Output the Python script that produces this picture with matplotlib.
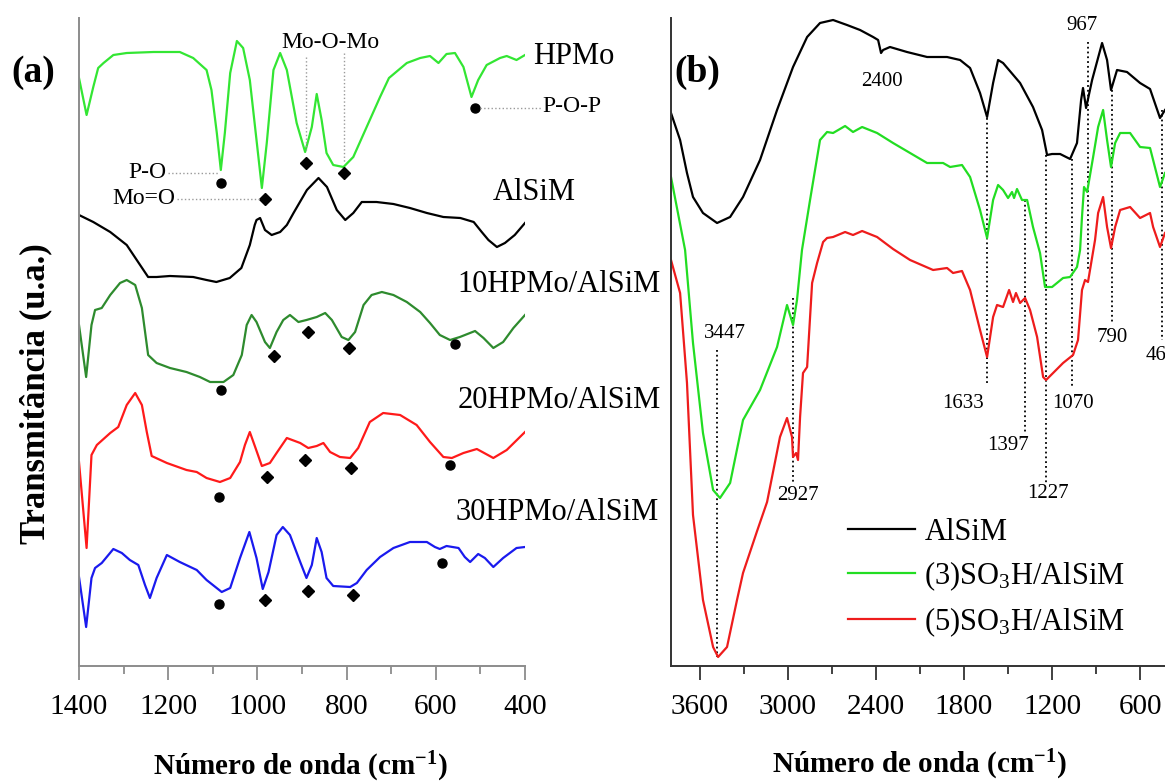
import matplotlib
matplotlib.use('Agg')
import matplotlib.pyplot as plt
from matplotlib.ticker import MultipleLocator

plt.rcParams['font.family'] = ['Liberation Serif', 'DejaVu Serif']
plt.rcParams['mathtext.fontset'] = 'custom'
plt.rcParams['mathtext.rm'] = 'Liberation Serif'
plt.rcParams['mathtext.it'] = 'Liberation Serif:italic'
plt.rcParams['mathtext.bf'] = 'Liberation Serif:bold'

# ---- panel (a): FTIR 1400-400 cm-1, offset spectra (arbitrary units) ----
hpmo_wn = [1400, 1383, 1368, 1357, 1345, 1323, 1293, 1233, 1174, 1144, 1114, 1103, 1091,
           1082, 1073, 1061, 1046, 1032, 1017, 1002, 990, 979, 964, 949, 934, 912, 893,
           878, 867, 856, 845, 830, 807, 785, 755, 725, 705, 665, 635, 613, 594, 576,
           557, 538, 520, 505, 486, 456, 441, 419, 400]
hpmo_t = [588, 551, 579, 598, 603, 611, 613, 614, 614, 608, 596, 576, 533, 496, 533, 593,
          625, 618, 586, 526, 478, 523, 596, 613, 596, 543, 514, 539, 572, 546, 513, 501,
          499, 509, 539, 569, 588, 603, 608, 610, 603, 612, 613, 599, 569, 586, 601, 608,
          610, 606, 611]

alsim_a_wn = [1400, 1368, 1330, 1293, 1263, 1245, 1226, 1196, 1144, 1114, 1092, 1062, 1036,
              1017, 1006, 1002, 994, 983, 968, 949, 934, 919, 889, 863, 844, 822, 803, 785,
              766, 733, 695, 658, 620, 583, 545, 515, 497, 482, 463, 445, 423, 400]
alsim_a_t = [451, 444, 434, 421, 401, 389, 389, 390, 389, 386, 384, 388, 398, 421, 441, 446,
             448, 436, 431, 434, 441, 453, 476, 488, 479, 456, 446, 453, 464, 464, 462, 458,
             453, 449, 448, 444, 434, 426, 419, 423, 431, 443]

h10_wn = [1400, 1384, 1372, 1364, 1349, 1330, 1308, 1293, 1274, 1259, 1245, 1226, 1196,
          1159, 1129, 1106, 1076, 1054, 1035, 1024, 1013, 1002, 983, 972, 957, 942, 927,
          908, 890, 867, 848, 833, 811, 796, 781, 762, 744, 721, 695, 665, 635, 613, 591,
          568, 546, 512, 493, 471, 449, 426, 400]
h10_t = [341, 289, 341, 356, 358, 371, 383, 386, 381, 358, 311, 303, 298, 294, 289, 284,
         284, 291, 311, 341, 351, 344, 324, 318, 334, 346, 351, 344, 346, 349, 353, 346,
         329, 326, 334, 361, 371, 374, 371, 364, 354, 343, 331, 326, 329, 335, 328, 318,
         324, 338, 351]

h20_wn = [1400, 1383, 1372, 1360, 1330, 1312, 1293, 1274, 1259, 1248, 1237, 1203, 1159,
          1136, 1114, 1084, 1061, 1039, 1028, 1017, 1005, 990, 972, 957, 934, 904, 886,
          867, 852, 837, 815, 792, 774, 748, 718, 680, 643, 613, 583, 564, 538, 508, 471,
          441, 400]
h20_t = [204, 118, 211, 221, 233, 239, 261, 273, 261, 234, 210, 203, 196, 194, 188, 184,
         188, 204, 221, 234, 219, 200, 203, 213, 228, 223, 218, 220, 223, 214, 209, 208,
         218, 244, 253, 251, 241, 224, 209, 208, 213, 217, 208, 216, 234]

h30_wn = [1400, 1384, 1372, 1364, 1349, 1323, 1304, 1286, 1267, 1252, 1241, 1226, 1203,
          1174, 1136, 1114, 1080, 1061, 1039, 1018, 1002, 988, 975, 957, 943, 927, 904,
          890, 878, 867, 856, 845, 830, 792, 777, 755, 725, 695, 658, 620, 602, 591, 576,
          549, 535, 523, 505, 490, 471, 449, 419, 400]
h30_t = [89, 39, 88, 98, 103, 117, 113, 106, 101, 81, 68, 88, 111, 104, 96, 86, 74, 78,
         108, 134, 108, 77, 94, 131, 139, 131, 104, 88, 101, 128, 114, 88, 80, 79, 83, 96,
         109, 118, 124, 124, 119, 117, 120, 118, 109, 104, 112, 108, 99, 108, 118, 119]

# band markers (wavenumber, transmittance)
dot_wn = [1082, 511, 1082, 557, 1085, 568, 1085, 585]
dot_t = [483, 558, 276, 322, 169, 201, 62, 103]
dia_wn = [890, 805, 984, 962, 886, 795, 978, 893, 791, 983, 886, 785]
dia_t = [503, 493, 467, 310, 334, 318, 189, 206, 198, 66, 75, 71]

# ---- panel (b): FTIR 3800-430 cm-1 ----
b_alsim_wn = [3798, 3736, 3689, 3648, 3580, 3484, 3395, 3307, 3191, 3075, 2966, 2870, 2782,
              2693, 2598, 2509, 2420, 2386, 2366, 2352, 2305, 2189, 2052, 1916, 1827, 1759,
              1691, 1643, 1602, 1568, 1534, 1418, 1330, 1268, 1234, 1200, 1145, 1077, 1030,
              1002, 989, 968, 927, 859, 825, 798, 757, 689, 600, 532, 464, 430]
b_alsim_t = [553, 526, 493, 469, 453, 443, 449, 469, 506, 556, 599, 629, 643, 646, 641, 636,
             629, 626, 613, 616, 619, 614, 609, 609, 606, 598, 573, 549, 583, 606, 603, 583,
             559, 536, 511, 512, 512, 507, 523, 566, 578, 558, 586, 623, 606, 576, 596, 594,
             583, 577, 548, 556]

b_so3_3_wn = [3798, 3702, 3648, 3580, 3511, 3464, 3395, 3307, 3191, 3075, 3007, 2966, 2939,
              2905, 2850, 2782, 2734, 2693, 2611, 2557, 2495, 2393, 2284, 2168, 2052, 1943,
              1895, 1814, 1759, 1691, 1643, 1602, 1568, 1534, 1500, 1473, 1459, 1439, 1405,
              1370, 1330, 1282, 1248, 1200, 1125, 1077, 1030, 1009, 996, 982, 961, 920, 886,
              852, 825, 798, 770, 736, 668, 600, 532, 511, 464, 430]
b_so3_3_t = [489, 416, 323, 233, 176, 168, 183, 246, 276, 319, 361, 341, 366, 416, 466, 526,
             534, 533, 540, 534, 539, 533, 523, 513, 503, 503, 499, 501, 489, 456, 428, 466,
             481, 476, 468, 474, 468, 477, 466, 466, 439, 413, 379, 379, 388, 389, 399, 416,
             449, 479, 474, 509, 539, 556, 526, 499, 523, 533, 533, 519, 518, 506, 479, 493]

b_so3_5_wn = [3798, 3736, 3689, 3648, 3580, 3511, 3477, 3416, 3348, 3307, 3211, 3143, 3055,
              3007, 2973, 2966, 2945, 2932, 2918, 2898, 2870, 2836, 2802, 2761, 2734, 2693,
              2611, 2557, 2495, 2393, 2284, 2168, 2011, 1916, 1875, 1814, 1759, 1691, 1643,
              1602, 1575, 1534, 1493, 1466, 1446, 1418, 1384, 1350, 1302, 1261, 1241, 1193,
              1125, 1057, 1023, 996, 975, 955, 907, 886, 852, 825, 798, 770, 736, 668, 600,
              532, 511, 464, 430]
b_so3_5_t = [406, 373, 283, 151, 66, 19, 9, 19, 66, 93, 135, 164, 229, 248, 229, 209, 213,
             206, 249, 293, 299, 383, 403, 424, 428, 429, 434, 431, 435, 429, 417, 406, 396,
             398, 393, 395, 376, 336, 309, 349, 361, 359, 376, 364, 373, 363, 368, 356, 329,
             289, 286, 293, 303, 311, 326, 376, 386, 384, 426, 453, 469, 439, 418, 439, 456,
             459, 448, 453, 439, 419, 433]

# band guides in (b): line position, top, bottom; label text and position
band_wn = [3484, 2966, 1643, 1384, 1241, 1064, 955, 791, 450]
band_top = [316, 368, 548, 466, 511, 507, 624, 576, 556]
band_bot = [9, 184, 281, 233, 183, 278, 396, 344, 326]
band_lbl = ['3447', '2927', '1633', '1397', '1227', '1070', '967', '790', '460']
band_lbl_wn = [3430, 2932, 1807, 1500, 1227, 1057, 995, 791, 455]
band_lbl_t = [333, 171, 262, 221, 173, 262, 641, 329, 310]

fig = plt.figure(figsize=(11.65, 7.83), dpi=100)
ax_a = fig.add_axes([79 / 1165, 117 / 783, 446 / 1165, 648 / 783])
ax_b = fig.add_axes([671 / 1165, 117 / 783, 494 / 1165, 648 / 783])


def style(ax, color):
    for s in ['top', 'right']:
        ax.spines[s].set_visible(False)
    for s in ['left', 'bottom']:
        ax.spines[s].set_color(color)
        ax.spines[s].set_linewidth(1.4)
    ax.set_yticks([])
    ax.tick_params(axis='x', which='major', length=10, width=1.3, color=color,
                   labelsize=21, pad=10)
    ax.tick_params(axis='x', which='minor', length=6, width=1.3, color=color)
    ax.set_ylim(0, 648)


# panel (a)
style(ax_a, '#8c8c8c')
ax_a.set_xlim(1400, 400)
ax_a.xaxis.set_major_locator(MultipleLocator(200))
ax_a.xaxis.set_minor_locator(MultipleLocator(100))
ax_a.plot(hpmo_wn, hpmo_t, color='#33e633', lw=1.6)
ax_a.plot(alsim_a_wn, alsim_a_t, color='black', lw=1.6)
ax_a.plot(h10_wn, h10_t, color='#2e8b2e', lw=1.6)
ax_a.plot(h20_wn, h20_t, color='#ff1a1a', lw=1.6)
ax_a.plot(h30_wn, h30_t, color='#1a1aee', lw=1.6)
ax_a.plot(dot_wn, dot_t, 'o', color='black', ms=6.5, clip_on=False)
ax_a.plot(dia_wn, dia_t, 'D', color='black', ms=6.5, clip_on=False)

gray = '#9a9a9a'
ax_a.plot([892, 892], [609, 516], ':', color=gray, lw=1)
ax_a.plot([805, 805], [613, 503], ':', color=gray, lw=1)
ax_a.plot([1200, 1085], [493, 493], ':', color=gray, lw=1)
ax_a.plot([1181, 994], [467, 467], ':', color=gray, lw=1)
ax_a.plot([501, 362], [558, 558], ':', color=gray, lw=1, clip_on=False)

ax_a.text(837, 623, 'Mo-O-Mo', fontsize=17, ha='center', va='center')
ax_a.text(1203, 493, 'P-O', fontsize=17, ha='right', va='center')
ax_a.text(1183, 467, 'Mo=O', fontsize=17, ha='right', va='center')
ax_a.text(360, 559, 'P-O-P', fontsize=17, ha='left', va='center')
ax_a.text(382, 609, 'HPMo', fontsize=22, ha='left', va='center')
ax_a.text(472, 473, 'AlSiM', fontsize=22, ha='left', va='center')
ax_a.text(552, 381, '10HPMo/AlSiM', fontsize=22, ha='left', va='center')
ax_a.text(552, 266, '20HPMo/AlSiM', fontsize=22, ha='left', va='center')
ax_a.text(556, 153, '30HPMo/AlSiM', fontsize=22, ha='left', va='center')

# panel (b)
style(ax_b, '#333333')
ax_b.set_xlim(3798, 430)
ax_b.xaxis.set_major_locator(MultipleLocator(600))
ax_b.xaxis.set_minor_locator(MultipleLocator(300))
for wn, top, bot in zip(band_wn, band_top, band_bot):
    ax_b.plot([wn, wn], [top, bot], ':', color='black', lw=1.3)
ax_b.plot(b_alsim_wn, b_alsim_t, color='black', lw=1.6, label='AlSiM')
ax_b.plot(b_so3_3_wn, b_so3_3_t, color='#22dd22', lw=1.6, label='(3)SO$_3$H/AlSiM')
ax_b.plot(b_so3_5_wn, b_so3_5_t, color='#ee1c1c', lw=1.6, label='(5)SO$_3$H/AlSiM')
for lbl, wn, t in zip(band_lbl, band_lbl_wn, band_lbl_t):
    ax_b.text(wn, t, lbl, fontsize=15, ha='center', va='center')
ax_b.text(2359, 584, '2400', fontsize=15, ha='center', va='center')

ax_b.legend(loc='upper left', bbox_to_anchor=(848 / 1165, 1 - 518 / 783),
            bbox_transform=fig.transFigure, frameon=False, fontsize=22,
            handlelength=2.2, handletextpad=0.3, borderaxespad=0, borderpad=0,
            labelspacing=0.4)

fig.text(33 / 1165, 1 - 73 / 783, '(a)', fontsize=27, fontweight='bold',
         ha='center', va='center')
fig.text(697 / 1165, 1 - 72 / 783, '(b)', fontsize=27, fontweight='bold',
         ha='center', va='center')
fig.text(36 / 1165, 1 - 394 / 783, 'Transmitância (u.a.)', fontsize=25,
         fontweight='bold', rotation=90, ha='center', va='center')
fig.text(300 / 1165, 1 - 767 / 783, r'Número de onda (cm$^{\mathbf{-1}}$)',
         fontsize=21, fontweight='bold', ha='center', va='center')
fig.text(919 / 1165, 1 - 765 / 783, r'Número de onda (cm$^{\mathbf{-1}}$)',
         fontsize=21, fontweight='bold', ha='center', va='center')

fig.savefig('out.png', dpi=100)
